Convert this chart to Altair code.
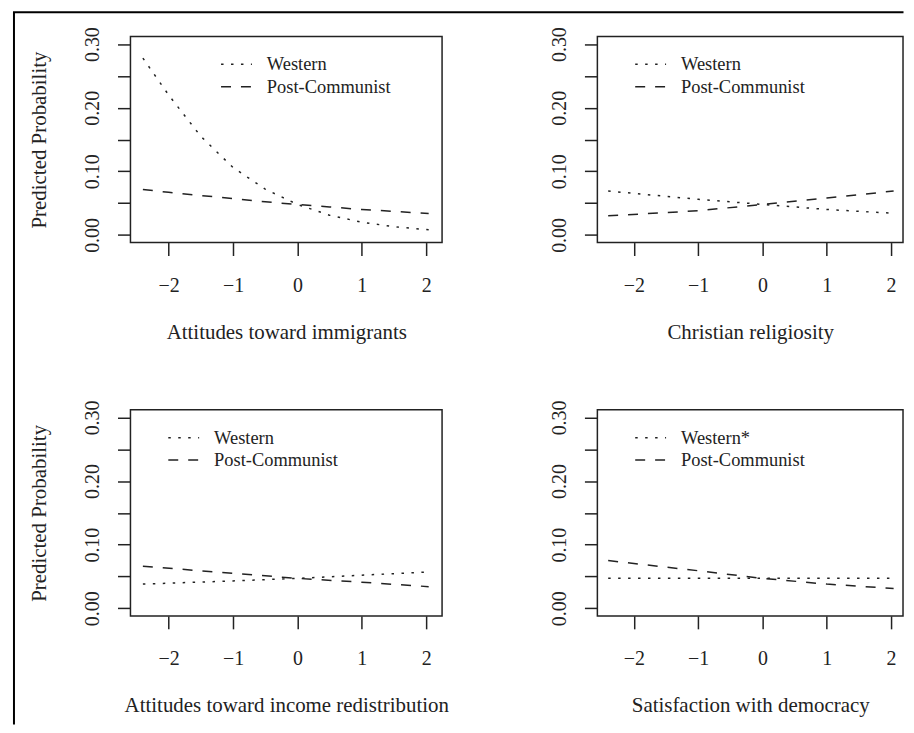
import altair as alt
import pandas as pd

# ---------------- data ----------------
x_dense = [-2.4, -2.0, -1.5, -1.0, -0.5, 0.0, 0.5, 1.0, 1.5, 2.04]
x_sparse = [-2.4, -1.0, 0.0, 1.0, 2.04]

imm_western = [0.278, 0.220, 0.155, 0.106, 0.072, 0.048, 0.031, 0.020, 0.013, 0.008]
imm_postcom = [0.0715, 0.067, 0.062, 0.057, 0.052, 0.048, 0.044, 0.040, 0.037, 0.0335]

rel_western = [0.069, 0.056, 0.048, 0.040, 0.034]
rel_postcom = [0.030, 0.038, 0.048, 0.058, 0.069]

inc_western = [0.038, 0.043, 0.047, 0.052, 0.057]
inc_postcom = [0.066, 0.055, 0.047, 0.041, 0.034]

dem_western = [0.047, 0.047, 0.047, 0.047, 0.047]
dem_postcom = [0.075, 0.059, 0.047, 0.038, 0.031]

x_titles = ["Attitudes toward immigrants", "Christian religiosity",
            "Attitudes toward income redistribution", "Satisfaction with democracy"]
western_labels = ["Western", "Western", "Western", "Western*"]
postcom_label = "Post-Communist"
y_title = "Predicted Probability"
x_ticks = [-2, -1, 0, 1, 2]
y_ticks = [0.0, 0.05, 0.10, 0.15, 0.20, 0.25, 0.30]

# ---------------- styling ----------------
INK = "#222222"
FONT = "Liberation Serif"
DOT = [2.5, 7.5]
DASH = [10, 10]
H = 207
Y_DOMAIN = [-0.012, 0.312]
dash_scale = alt.Scale(domain=["Western", "Western*", postcom_label],
                       range=[DOT, DOT, DASH])


def panel(xs, west, post, wlabel, xtitle, show_ytitle, xdomain, width, leg_x, frame=False):
    df = pd.DataFrame({
        "x": xs + xs,
        "p": west + post,
        "series": [wlabel] * len(xs) + [postcom_label] * len(xs),
    })
    yaxis = alt.Axis(values=y_ticks,
                     labelExpr="round(datum.value*100) % 10 == 0 ? format(datum.value, '.2f') : ''")
    if show_ytitle:
        ytitle = y_title
    else:
        ytitle = None
    lines = alt.Chart(df).mark_line(strokeWidth=1.5, color=INK).encode(
        x=alt.X("x:Q", scale=alt.Scale(domain=xdomain, nice=False, zero=False),
                axis=alt.Axis(values=x_ticks, format="d"), title=xtitle),
        y=alt.Y("p:Q", scale=alt.Scale(domain=Y_DOMAIN, nice=False, zero=False),
                axis=yaxis, title=ytitle),
        strokeDash=alt.StrokeDash("series:N", scale=dash_scale, legend=None),
    )
    layers = [lines]
    entries = [(wlabel, DOT, 28), (postcom_label, DASH, 50.5)]
    for lab, dash, yy in entries:
        d = pd.DataFrame({"label": [lab]})
        layers.append(
            alt.Chart(d).mark_rule(strokeDash=dash, strokeWidth=1.5, color=INK).encode(
                x=alt.value(leg_x), x2=alt.value(leg_x + 31), y=alt.value(yy))
        )
        layers.append(
            alt.Chart(d).mark_text(align="left", baseline="middle", font=FONT,
                                   fontSize=18.5, color=INK).encode(
                x=alt.value(leg_x + 46), y=alt.value(yy), text="label:N")
        )
    if frame:
        fd = pd.DataFrame({"k": [0]})
        layers.append(
            alt.Chart(fd).mark_rule(strokeWidth=2, color="black").encode(
                x=alt.value(-117), y=alt.value(-24.3), y2=alt.value(691))
        )
        layers.append(
            alt.Chart(fd).mark_rule(strokeWidth=2, color="black").encode(
                x=alt.value(-118), x2=alt.value(776.5), y=alt.value(-24.3))
        )
    return alt.layer(*layers).properties(width=width, height=H)


p1 = panel(x_dense, imm_western, imm_postcom, western_labels[0], x_titles[0], True,
           [-2.593, 2.248], 313, 91, frame=True)
p2 = panel(x_sparse, rel_western, rel_postcom, western_labels[1], x_titles[1], False,
           [-2.568, 2.186], 307, 38)
p3 = panel(x_sparse, inc_western, inc_postcom, western_labels[2], x_titles[2], True,
           [-2.593, 2.248], 313, 38)
p4 = panel(x_sparse, dem_western, dem_postcom, western_labels[3], x_titles[3], False,
           [-2.568, 2.186], 307, 38)

chart = alt.concat(
    p1, p2, p3, p4, columns=2,
    spacing=alt.RowColnumber(row=168, column=156),
    bounds="flush",
).properties(
    padding={"left": 3, "top": 0, "right": 0, "bottom": 0}
).configure_view(
    stroke=INK, strokeWidth=1.5
).configure_axis(
    labelFont=FONT, titleFont=FONT, labelFontSize=20, titleFontSize=21,
    titleFontWeight="normal", labelColor=INK, titleColor=INK,
    tickColor=INK, tickWidth=1.5, tickSize=13, domain=False, grid=False,
    labelOverlap=False, labelFlush=False,
).configure_axisX(
    labelPadding=20, titlePadding=43, titleBaseline="alphabetic",
).configure_axisY(
    labelAngle=270, labelAlign="center", labelBaseline="alphabetic",
    labelPadding=19, titlePadding=37, titleBaseline="alphabetic", titleAngle=270,
)

chart.save("out.html", embed_options={"renderer": "svg", "actions": False})
